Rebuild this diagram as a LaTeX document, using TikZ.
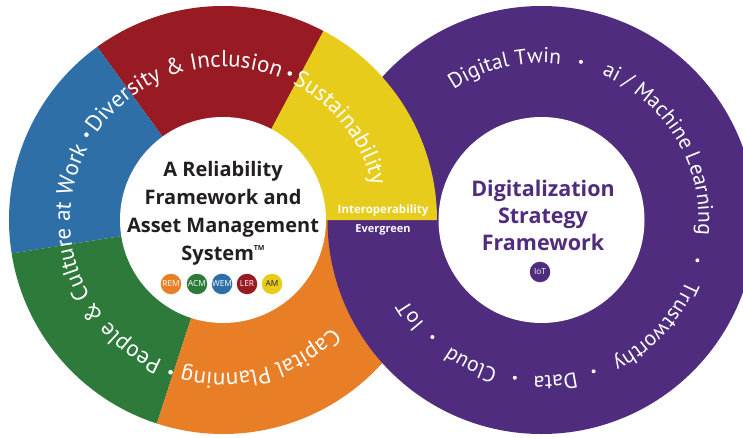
\documentclass[tikz,border=0pt]{standalone}
\usepackage{fontspec}
\setmainfont{Open Sans}
\newfontfamily\ringfont{PT Sans}
\usetikzlibrary{decorations.text}
\definecolor{cred}{HTML}{981B24}
\definecolor{cyellow}{HTML}{E8CC1C}
\definecolor{cblue}{HTML}{2F6FA8}
\definecolor{cgreen}{HTML}{2E7A3B}
\definecolor{corange}{HTML}{E87E26}
\definecolor{cpurple}{HTML}{4F2C7E}
\definecolor{cdark}{HTML}{231F20}
% #1 colour, #2 centre, #3 start angle, #4 end angle
\newcommand\sector[4]{\fill[#1] (#2) -- ++(#3:214) arc[start angle=#3, end angle=#4, radius=214] -- cycle;}
% #1 centre, #2 radius, #3 mid angle, #4 font size, #5 text
\newcommand\ringtext[5]{\path[shift={(#1)}, decorate, decoration={text along path, text align=center, text={|\ringfont\fontsize{#4}{#4}\selectfont\color{white}|#5}}] ({#3+85}:#2) arc[start angle={#3+85}, end angle={#3-85}, radius=#2];}
\tikzset{
  badge/.style={circle, minimum size=20.5pt, inner sep=0pt, text=white, font=\fontsize{8.3}{8.3}\selectfont},
  dotmark/.style={fill=white}
}
\begin{document}
\begin{tikzpicture}[x=1pt,y=1pt]
\useasboundingbox (0,0) rectangle (743,437);
\clip (0,0) rectangle (743,437);
\fill[white] (0,0) rectangle (743,437);
\coordinate (L) at (223,217);
\coordinate (R) at (541.5,217);
% left ring
\sector{cyellow}{L}{0}{62}
\sector{cred}{L}{62}{126}
\sector{cblue}{L}{126}{189}
\sector{cgreen}{L}{189}{252}
\sector{corange}{L}{252}{360}
% right ring
\fill[cpurple] (R) circle[radius=214];
% yellow over purple
\sector{cyellow}{L}{0}{62}
% inner discs
\fill[white] (L) circle[radius=103];
\fill[white] (R) circle[radius=103];
% left ring texts
\ringtext{L}{153}{38}{23}{Sustainability}
\ringtext{L}{153}{107}{23}{Diversity {\&} Inclusion}
\ringtext{L}{153}{199.5}{23}{People {\&} Culture at Work}
\ringtext{L}{153}{285}{23}{Capital Planning}
\fill[dotmark] (L) ++(65.5:161) circle[radius=2.3];
\fill[dotmark] (L) ++(148:161) circle[radius=2.3];
\fill[dotmark] (L) ++(251:161) circle[radius=2.3];
% right ring texts
\ringtext{R}{157}{103.5}{21.5}{Digital Twin}
\ringtext{R}{157}{31}{21.5}{ai / Machine Learning}
\ringtext{R}{157}{-43}{21.5}{Trustworthy}
\ringtext{R}{156}{-85}{21.5}{Data}
\ringtext{R}{156}{-116}{21.5}{Cloud}
\ringtext{R}{156}{-144}{21.5}{IoT}
\fill[dotmark] (R) ++(76:163) circle[radius=2];
\fill[dotmark] (R) ++(-14.5:161) circle[radius=2];
\fill[dotmark] (R) ++(-71:160) circle[radius=2];
\fill[dotmark] (R) ++(-99.6:160) circle[radius=2];
\fill[dotmark] (R) ++(-133:160) circle[radius=2];
% centre texts
\node[font=\bfseries\fontsize{20}{28}\selectfont, text=cdark, align=center] (lefttitle) at (223,224) {A Reliability\\Framework and\\Asset Management\\System\raisebox{0.5em}{\fontsize{7}{7}\selectfont TM}};
\node[badge, fill=corange] (rem) at (171,153) {REM};
\node[badge, fill=cgreen] (acm) at (197,153) {ACM};
\node[badge, fill=cblue] (wem) at (222,153) {WEM};
\node[badge, fill=cred] (ler) at (247,153) {LER};
\node[badge, fill=cyellow, text=cdark] (am) at (272,153) {AM};
\node[font=\bfseries\fontsize{21.5}{27}\selectfont, text=cpurple, align=center] (righttitle) at (543,222) {Digitalization\\Strategy\\Framework};
\node[badge, fill=cpurple] (iot) at (540,165) {IoT};
\node[font=\bfseries\fontsize{11.5}{11.5}\selectfont, text=white] (interop) at (383,226) {Interoperability};
\node[font=\bfseries\fontsize{11}{11}\selectfont, text=white] (evergreen) at (383,207) {Evergreen};
\end{tikzpicture}
\end{document}
